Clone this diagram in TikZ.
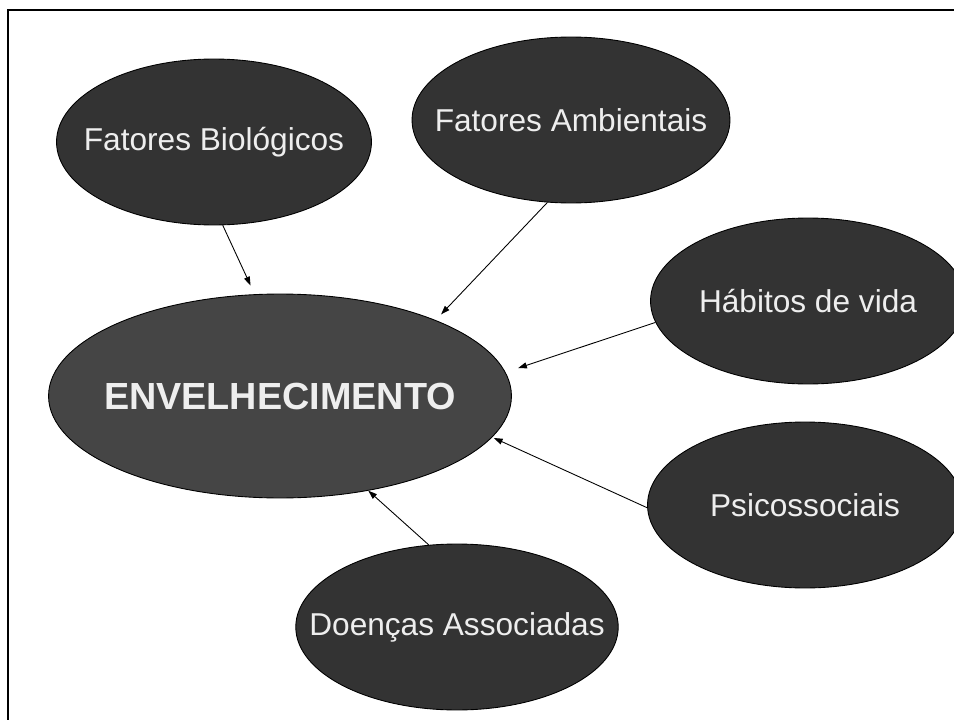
\documentclass[tikz,border=0pt]{standalone}
\usepackage{fontspec}
\setmainfont{Liberation Sans}
\usetikzlibrary{shapes.geometric,arrows.meta}
\definecolor{factorfill}{HTML}{333333}
\definecolor{centrefill}{HTML}{454545}
\definecolor{labeltext}{HTML}{EEEEEE}
\newcommand{\nowidth}[1]{\makebox[0pt]{#1}}

\begin{document}
\begin{tikzpicture}[x=0.02cm,y=-0.02cm]
\tikzstyle{factor}=[draw, ellipse, line width=0.5pt, fill=factorfill, text=labeltext, inner sep=0pt,
  minimum width=6.3cm, minimum height=3.32cm, font=\fontsize{18}{22}\selectfont]
\tikzstyle{centre}=[factor, fill=centrefill, minimum width=9.26cm, minimum height=4.08cm,
  font=\fontsize{21.5}{26}\selectfont\bfseries]
\tikzstyle{link}=[-{Triangle[length=5pt,width=3.4pt]}, line width=0.5pt]

\useasboundingbox (0,0) rectangle (954,720);
\clip (0,0) rectangle (954,720);
\draw[line width=1.1pt] (8,730) -- (8,10) -- (960,10);

\draw (214,142) node[factor] (bio) {\nowidth{Fatores Biológicos}};
\draw (571,120) node[factor, minimum width=6.36cm] (amb) {\nowidth{Fatores Ambientais}};
\draw (808,301) node[factor] (hab) {\nowidth{Hábitos de vida}};
\draw (805,505) node[factor] (psi) {\nowidth{Psicossociais}};
\draw (457,627) node[factor, minimum width=6.45cm] (doe) {\nowidth{Doenças Associadas}};
\draw (280,396) node[centre] (env) {\nowidth{ENVELHECIMENTO}};

\draw (bio.-84) edge[link, shorten >=5.5pt] (env.104);
\draw (amb.-106) edge[link, shorten >=4.5pt] (env.26);
\draw (hab.188) edge[link, shorten >=7.5pt] (env.6.5);
\draw (psi.181) edge[link, shorten >=1pt] (env.-11);
\draw (doe.109) edge[link] (env.-47);
\end{tikzpicture}
\end{document}
